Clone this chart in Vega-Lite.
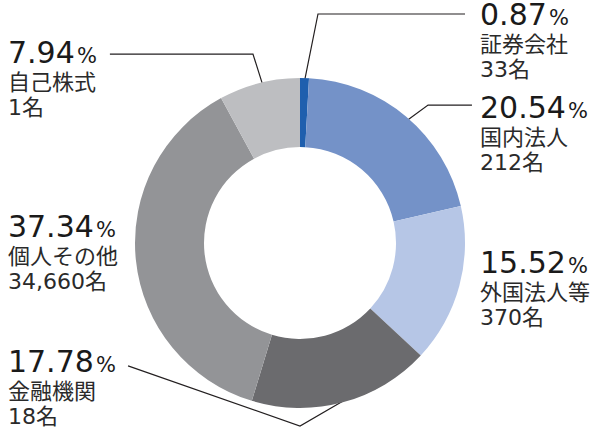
{
  "$schema": "https://vega.github.io/schema/vega-lite/v6.json",
  "width": 600,
  "height": 430,
  "autosize": {"type": "fit", "contains": "padding"},
  "padding": 0,
  "background": "white",
  "config": {"view": {"stroke": null}},
  "datasets": {
    "shares": [
      {"category": "証券会社", "pct": 0.87, "num": "0.87", "count": "33名", "order": 1, "lx": 1.091, "ly": 1.321},
      {"category": "国内法人", "pct": 20.54, "num": "20.54", "count": "212名", "order": 2, "lx": 1.091, "ly": 0.758},
      {"category": "外国法人等", "pct": 15.52, "num": "15.52", "count": "370名", "order": 3, "lx": 1.091, "ly": -0.182},
      {"category": "金融機関", "pct": 17.78, "num": "17.78", "count": "18名", "order": 4, "lx": -1.77, "ly": -0.782},
      {"category": "個人その他", "pct": 37.34, "num": "37.34", "count": "34,660名", "order": 5, "lx": -1.77, "ly": 0.036},
      {"category": "自己株式", "pct": 7.94, "num": "7.94", "count": "1名", "order": 6, "lx": -1.77, "ly": 1.091}
    ],
    "leaders": [
      {"label": "証券会社", "seq": 1, "x": 0.024, "y": 0.964},
      {"label": "証券会社", "seq": 2, "x": 0.109, "y": 1.388},
      {"label": "証券会社", "seq": 3, "x": 1.0, "y": 1.388},
      {"label": "国内法人", "seq": 1, "x": 0.636, "y": 0.733},
      {"label": "国内法人", "seq": 2, "x": 0.776, "y": 0.836},
      {"label": "国内法人", "seq": 3, "x": 1.042, "y": 0.836},
      {"label": "自己株式", "seq": 1, "x": -0.224, "y": 0.952},
      {"label": "自己株式", "seq": 2, "x": -0.285, "y": 1.145},
      {"label": "自己株式", "seq": 3, "x": -1.152, "y": 1.145},
      {"label": "金融機関", "seq": 1, "x": -1.042, "y": -0.745},
      {"label": "金融機関", "seq": 2, "x": 0.0, "y": -1.109},
      {"label": "金融機関", "seq": 3, "x": 0.303, "y": -0.933}
    ]
  },
  "layer": [
    {
      "data": {"name": "leaders"},
      "mark": {"type": "line", "color": "#231f20", "strokeWidth": 1.2},
      "encoding": {
        "x": {"field": "x", "type": "quantitative", "scale": {"domain": [-1.818, 1.818], "nice": false, "zero": false}, "axis": null},
        "y": {"field": "y", "type": "quantitative", "scale": {"domain": [-1.1333, 1.4727], "nice": false, "zero": false}, "axis": null},
        "detail": {"field": "label"},
        "order": {"field": "seq"}
      }
    },
    {
      "data": {"name": "shares"},
      "mark": {"type": "arc", "outerRadius": 165, "innerRadius": 96},
      "encoding": {
        "theta": {"field": "pct", "type": "quantitative", "stack": true},
        "order": {"field": "order"},
        "color": {
          "field": "category", "type": "nominal", "legend": null,
          "scale": {
            "domain": ["証券会社", "国内法人", "外国法人等", "金融機関", "個人その他", "自己株式"],
            "range": ["#1f5fae", "#7492c8", "#b6c6e6", "#6b6b6e", "#939497", "#bdbec1"]
          }
        },
        "x": {"datum": 0, "type": "quantitative", "scale": {"domain": [-1.818, 1.818], "nice": false, "zero": false}, "axis": null},
        "y": {"datum": 0, "type": "quantitative", "scale": {"domain": [-1.1333, 1.4727], "nice": false, "zero": false}, "axis": null}
      }
    },
    {
      "data": {"name": "shares"},
      "mark": {"type": "text", "align": "left", "baseline": "alphabetic", "font": "DejaVu Sans", "fontSize": 30, "color": "#1a1a1a"},
      "encoding": {
        "x": {"field": "lx", "type": "quantitative", "scale": {"domain": [-1.818, 1.818], "nice": false, "zero": false}, "axis": null},
        "y": {"field": "ly", "type": "quantitative", "scale": {"domain": [-1.1333, 1.4727], "nice": false, "zero": false}, "axis": null},
        "text": {"field": "num"}
      }
    },
    {
      "data": {"name": "shares"},
      "transform": [{"filter": "length(datum.num) == 4"}],
      "mark": {"type": "text", "align": "left", "baseline": "alphabetic", "font": "DejaVu Sans", "fontSize": 21, "color": "#1a1a1a", "dx": 69},
      "encoding": {
        "x": {"field": "lx", "type": "quantitative", "scale": {"domain": [-1.818, 1.818], "nice": false, "zero": false}, "axis": null},
        "y": {"field": "ly", "type": "quantitative", "scale": {"domain": [-1.1333, 1.4727], "nice": false, "zero": false}, "axis": null},
        "text": {"value": "%"}
      }
    },
    {
      "data": {"name": "shares"},
      "transform": [{"filter": "length(datum.num) == 5"}],
      "mark": {"type": "text", "align": "left", "baseline": "alphabetic", "font": "DejaVu Sans", "fontSize": 21, "color": "#1a1a1a", "dx": 88},
      "encoding": {
        "x": {"field": "lx", "type": "quantitative", "scale": {"domain": [-1.818, 1.818], "nice": false, "zero": false}, "axis": null},
        "y": {"field": "ly", "type": "quantitative", "scale": {"domain": [-1.1333, 1.4727], "nice": false, "zero": false}, "axis": null},
        "text": {"value": "%"}
      }
    },
    {
      "data": {"name": "shares"},
      "mark": {"type": "text", "align": "left", "baseline": "alphabetic", "font": "Noto Sans CJK JP", "fontSize": 22, "color": "#2a2a2a", "dy": 27},
      "encoding": {
        "x": {"field": "lx", "type": "quantitative", "scale": {"domain": [-1.818, 1.818], "nice": false, "zero": false}, "axis": null},
        "y": {"field": "ly", "type": "quantitative", "scale": {"domain": [-1.1333, 1.4727], "nice": false, "zero": false}, "axis": null},
        "text": {"field": "category"}
      }
    },
    {
      "data": {"name": "shares"},
      "mark": {"type": "text", "align": "left", "baseline": "alphabetic", "font": "DejaVu Sans, Noto Sans CJK JP", "fontSize": 22, "color": "#2a2a2a", "dy": 52},
      "encoding": {
        "x": {"field": "lx", "type": "quantitative", "scale": {"domain": [-1.818, 1.818], "nice": false, "zero": false}, "axis": null},
        "y": {"field": "ly", "type": "quantitative", "scale": {"domain": [-1.1333, 1.4727], "nice": false, "zero": false}, "axis": null},
        "text": {"field": "count"}
      }
    }
  ]
}
